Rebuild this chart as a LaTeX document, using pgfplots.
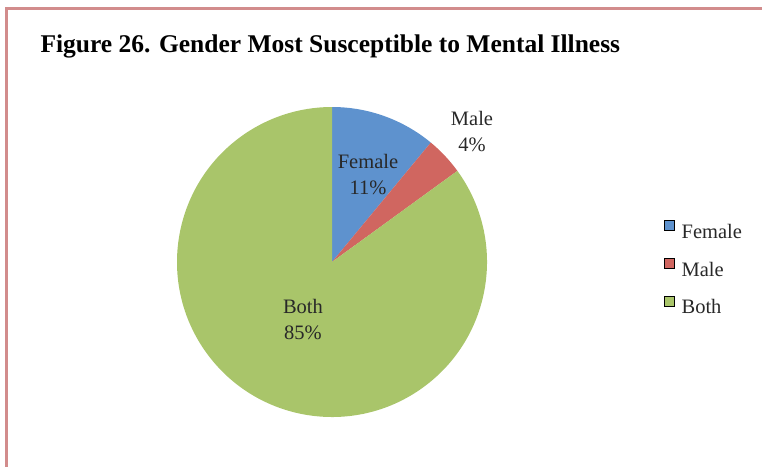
\documentclass[border=0pt]{standalone}
\usepackage{pgfplots}
\pgfplotsset{compat=1.18}
\usepackage{pgfplotstable}
\usepackage{fontspec}
\setmainfont{Liberation Serif}

\definecolor{cFemale}{RGB}{94,146,206}
\definecolor{cMale}{RGB}{208,102,96}
\definecolor{cBoth}{RGB}{169,197,106}
\definecolor{frame}{RGB}{210,140,140}
\definecolor{lbl}{RGB}{40,40,40}

% share of answers, in percent
\pgfplotstableread{
label  value colour
Female 11    cFemale
Male   4     cMale
Both   85    cBoth
}\piedata

\begin{document}
\begin{tikzpicture}
\begin{axis}[
    name=pie,
    width=762bp, height=467bp,
    scale only axis,
    xmin=0, xmax=762, ymin=0, ymax=467,
    y dir=reverse,
    hide axis,
    clip=false,
    legend cell align=left,
    legend style={
        at={(axis cs:664,220)}, anchor=north west,
        draw=none, fill=none, inner sep=0pt,
        font=\fontsize{20.5bp}{22bp}\selectfont,
        text=lbl,
        nodes={text height=14bp, text depth=4bp, inner sep=0pt},
        row sep=15.5bp,
        /tikz/every odd column/.append style={column sep=7bp},
    },
    legend image code/.code={\fill[#1] (0bp,3bp) rectangle (10bp,13bp);},
]
    % frame lines
    \draw[frame, line width=3bp] (axis cs:6.5,467) |- (axis cs:762,8.5);

    % pie slices, clockwise from the top
    \pgfplotstablegetrowsof{\piedata}
    \pgfmathtruncatemacro\lastrow{\pgfplotsretval-1}
    \def\startang{90}
    \pgfplotsforeachungrouped \i in {0,...,\lastrow}{%
        \pgfplotstablegetelem{\i}{value}\of\piedata
        \let\v\pgfplotsretval
        \pgfplotstablegetelem{\i}{colour}\of\piedata
        \let\c\pgfplotsretval
        \pgfmathsetmacro\endang{\startang-3.6*\v}
        \edef\slice{\noexpand\fill[\c] (axis cs:332,262) -- ++(\startang:155bp)
            arc[start angle=\startang, end angle=\endang, radius=155bp] -- cycle;}
        \slice
        \global\let\startang\endang
    }

    \addlegendimage{fill=cFemale}
    \addlegendentry{Female}
    \addlegendimage{fill=cMale}
    \addlegendentry{Male}
    \addlegendimage{fill=cBoth}
    \addlegendentry{Both}

    \node[font=\fontsize{20.5bp}{26bp}\selectfont, text=lbl, align=center]
        at (axis cs:368,175) {Female\\11\%};
    \node[font=\fontsize{20.5bp}{26bp}\selectfont, text=lbl, align=center]
        at (axis cs:472,132) {Male\\4\%};
    \node[font=\fontsize{20.5bp}{26bp}\selectfont, text=lbl, align=center]
        at (axis cs:303,320) {Both\\85\%};

    \node[font=\bfseries\fontsize{25.5bp}{27bp}\selectfont, anchor=base west]
        at (axis cs:37,53) {Figure 26. Gender Most Susceptible to Mental Illness};
\end{axis}
\pgfresetboundingbox
\useasboundingbox (pie.south west) rectangle (pie.north east);
\end{tikzpicture}
\end{document}
